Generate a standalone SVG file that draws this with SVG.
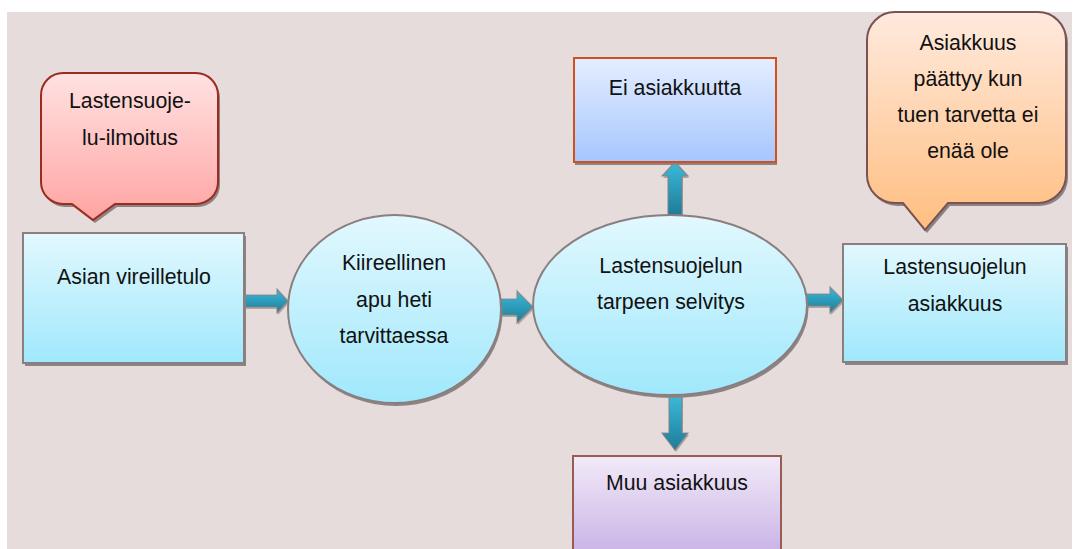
<svg xmlns="http://www.w3.org/2000/svg" width="1074" height="549" viewBox="0 0 1074 549">
  <defs>
    <linearGradient id="gBlue" x1="0" y1="0" x2="0" y2="1">
      <stop offset="0" stop-color="#e2f8fe"/>
      <stop offset="1" stop-color="#a0e8fc"/>
    </linearGradient>
    <linearGradient id="gRed" x1="0" y1="0" x2="0" y2="1">
      <stop offset="0" stop-color="#ffe2e2"/>
      <stop offset="1" stop-color="#ffa4a2"/>
    </linearGradient>
    <linearGradient id="gOrange" x1="0" y1="0" x2="0" y2="1">
      <stop offset="0" stop-color="#ffeade"/>
      <stop offset="1" stop-color="#ffbe80"/>
    </linearGradient>
    <linearGradient id="gPeri" x1="0" y1="0" x2="0" y2="1">
      <stop offset="0" stop-color="#e4eeff"/>
      <stop offset="1" stop-color="#a6c6fe"/>
    </linearGradient>
    <linearGradient id="gLilac" x1="0" y1="0" x2="0" y2="1">
      <stop offset="0" stop-color="#f2eaf8"/>
      <stop offset="1" stop-color="#c8b2e6"/>
    </linearGradient>
    <linearGradient id="gArrow" x1="0" y1="0" x2="0" y2="1">
      <stop offset="0" stop-color="#3cbadb"/>
      <stop offset="1" stop-color="#1d7c98"/>
    </linearGradient>
  </defs>
  <style>
    .t { font-family: "Liberation Sans", Arial, sans-serif; font-size: 21.3px; fill: #111; text-anchor: middle; }
    .sh { fill: #8c8484; }
    .box { stroke: #8a7e7e; stroke-width: 2; }
    .arrow { fill: url(#gArrow); stroke: #8c8080; stroke-width: 1.2; stroke-opacity: 0.8; }
  </style>

  <rect x="7" y="12" width="1065" height="537" fill="#e5dcdb"/>

  <g id="connectors">
    <polygon class="sh" opacity="0.6" points="246,297 278,297 278,291 289,303 278,315 278,309 246,309"/>
    <polygon class="arrow" points="245,295 277,295 277,289 288,301 277,313 277,307 245,307"/>
    <polygon class="sh" opacity="0.6" points="502,301 518,301 518,293 534,309 518,325 518,317 502,317"/>
    <polygon class="arrow" points="501,299 517,299 517,291 533,307 517,323 517,315 501,315"/>
    <polygon class="sh" opacity="0.6" points="807,296 831,296 831,289 844,302 831,315 831,308 807,308"/>
    <polygon class="arrow" points="806,294 830,294 830,287 843,300 830,313 830,306 806,306"/>
    <polygon class="sh" opacity="0.6" points="669,218 669,178 663,178 676,164 689,178 683,178 683,218"/>
    <polygon class="arrow" points="668,215 668,176 662,176 675,162 688,176 682,176 682,215"/>
    <polygon class="sh" opacity="0.6" points="670,397 670,435 663,435 676,452 689,435 683,435 683,397"/>
    <polygon class="arrow" points="669,395 669,433 662,433 675,450 688,433 682,433 682,395"/>
  </g>

  <g id="callout-ilmoitus">
    <path class="sh" d="M65,76 H198 A22,22 0 0 1 220,98 V185 A22,22 0 0 1 198,207 H117 L95,223 L74,207 H65 A22,22 0 0 1 43,185 V98 A22,22 0 0 1 65,76 Z"/>
    <path d="M63,73 H196 A22,22 0 0 1 218,95 V182 A22,22 0 0 1 196,204 H115 L93,220 L72,204 H63 A22,22 0 0 1 41,182 V95 A22,22 0 0 1 63,73 Z" fill="url(#gRed)" stroke="#9c2c20" stroke-width="2"/>
    <text class="t" x="130" y="108">Lastensuoje-</text>
    <text class="t" x="130" y="145">lu-ilmoitus</text>
  </g>

  <g id="node-vireilletulo">
    <rect class="sh" x="25" y="236" width="221" height="130"/>
    <rect class="box" x="23" y="233" width="221" height="130" fill="url(#gBlue)"/>
    <text class="t" x="134" y="284">Asian vireilletulo</text>
  </g>

  <g id="node-kiireellinen">
    <ellipse class="sh" cx="396" cy="312" rx="106.5" ry="94"/>
    <ellipse class="box" cx="394.5" cy="309" rx="106.5" ry="94" fill="url(#gBlue)"/>
    <text class="t" x="394" y="270">Kiireellinen</text>
    <text class="t" x="394" y="307">apu heti</text>
    <text class="t" x="394" y="343">tarvittaessa</text>
  </g>

  <g id="node-selvitys">
    <ellipse class="sh" cx="671.5" cy="308" rx="137" ry="90"/>
    <ellipse class="box" cx="670" cy="305" rx="137" ry="90" fill="url(#gBlue)"/>
    <text class="t" x="671" y="273">Lastensuojelun</text>
    <text class="t" x="671" y="309">tarpeen selvitys</text>
  </g>

  <g id="node-ei-asiakkuutta">
    <rect class="sh" x="575" y="61" width="202" height="104"/>
    <rect x="574" y="58" width="202" height="104" fill="url(#gPeri)" stroke="#d0501f" stroke-width="2"/>
    <text class="t" x="675" y="95">Ei asiakkuutta</text>
  </g>

  <g id="node-muu-asiakkuus">
    <rect x="573" y="456" width="208" height="100" fill="url(#gLilac)" stroke="#9a5c52" stroke-width="2"/>
    <text class="t" x="677" y="490">Muu asiakkuus</text>
  </g>

  <g id="node-asiakkuus">
    <rect class="sh" x="845" y="247" width="223" height="118"/>
    <rect class="box" x="843" y="244" width="223" height="118" fill="url(#gBlue)"/>
    <text class="t" x="955" y="274">Lastensuojelun</text>
    <text class="t" x="955" y="311">asiakkuus</text>
  </g>

  <g id="callout-paattyy">
    <path class="sh" d="M897,15 H1040 A28,28 0 0 1 1068,43 V178 A28,28 0 0 1 1040,206 H950 L927,233 L905,206 H897 A28,28 0 0 1 869,178 V43 A28,28 0 0 1 897,15 Z"/>
    <path d="M895,12 H1038 A28,28 0 0 1 1066,40 V175 A28,28 0 0 1 1038,203 H948 L925,230 L903,203 H895 A28,28 0 0 1 867,175 V40 A28,28 0 0 1 895,12 Z" fill="url(#gOrange)" stroke="#7a5252" stroke-width="2"/>
    <text class="t" x="968" y="50">Asiakkuus</text>
    <text class="t" x="968" y="86">päättyy kun</text>
    <text class="t" x="968" y="122">tuen tarvetta ei</text>
    <text class="t" x="968" y="158">enää ole</text>
  </g>
</svg>
